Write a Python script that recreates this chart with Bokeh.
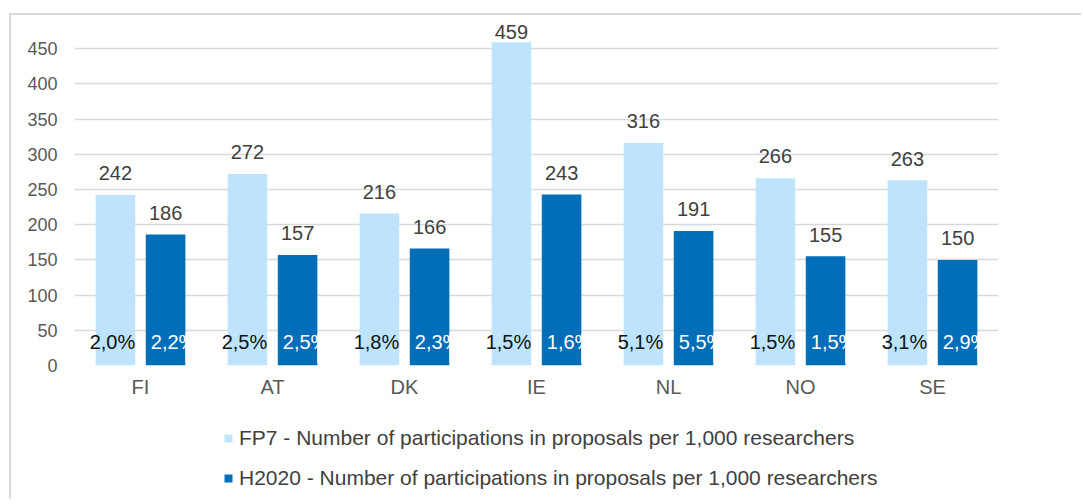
import numpy as np
from bokeh.plotting import figure
from bokeh.layouts import column
from bokeh.models import ColumnDataSource, FactorRange, FixedTicker, Legend, LegendItem, Range1d
from bokeh.transform import dodge
from bokeh.core.properties import value
from bokeh.embed import file_html
from bokeh.resources import INLINE

# ---- data ----
countries = ["FI", "AT", "DK", "IE", "NL", "NO", "SE"]
fp7_values = [242, 272, 216, 459, 316, 266, 263]
h2020_values = [186, 157, 166, 243, 191, 155, 150]
fp7_share = ["2,0%", "2,5%", "1,8%", "1,5%", "5,1%", "1,5%", "3,1%"]
h2020_share = ["2,2%", "2,5%", "2,3%", "1,6%", "5,5%", "1,5%", "2,9%"]
y_ticks = [0, 50, 100, 150, 200, 250, 300, 350, 400, 450]
fp7_label = "FP7 - Number of participations in proposals per 1,000 researchers"
h2020_label = "H2020 - Number of participations in proposals per 1,000 researchers"

LIGHT = "#BDE4FC"
DARK = "#006EB8"
FONT = "Liberation Sans"

src = ColumnDataSource(dict(
    cat=countries,
    fp7=fp7_values,
    h2020=h2020_values,
    fp7_lab=[str(v) for v in fp7_values],
    h2020_lab=[str(v) for v in h2020_values],
    fp7_ly=[float(v) for v in np.minimum(np.array(fp7_values) + 31, 473)],
    h2020_ly=[float(v) for v in np.minimum(np.array(h2020_values) + 31, 473)],
    fp7_pct=fp7_share,
    h2020_pct=h2020_share,
    pct_y=[33] * len(countries),
    mask_bottom=[4] * len(countries),
    mask_top=[46] * len(countries),
))

p = figure(
    x_range=FactorRange(*countries, range_padding=0),
    y_range=Range1d(0, 490),
    width=1070, height=400,
    output_backend="svg", toolbar_location=None,
    min_border_left=63, min_border_right=83, min_border_top=5, min_border_bottom=50,
)
p.outline_line_color = None
p.background_fill_color = "white"
p.border_fill_color = "white"

off = 0.19
w = 0.30
p.vbar(x=dodge("cat", -off, range=p.x_range), top="fp7", width=w, source=src,
       fill_color=LIGHT, line_color=None)
p.vbar(x=dodge("cat", off, range=p.x_range), top="h2020", width=w, source=src,
       fill_color=DARK, line_color=None)

# value labels above bars
p.text(x=dodge("cat", -off, range=p.x_range), y="fp7_ly", text="fp7_lab", source=src,
       text_align="center", text_baseline="alphabetic", text_font=value(FONT),
       text_font_size="20px", text_color="#404040")
p.text(x=dodge("cat", off, range=p.x_range), y="h2020_ly", text="h2020_lab", source=src,
       text_align="center", text_baseline="alphabetic", text_font=value(FONT),
       text_font_size="20px", text_color="#404040")

# share labels inside bars
p.text(x=dodge("cat", -off, range=p.x_range), y="pct_y", text="fp7_pct", source=src,
       text_align="center", text_baseline="alphabetic", text_font=value(FONT),
       text_font_size="20px", text_color="#111111", x_offset=-3)
p.text(x=dodge("cat", off - w / 2, range=p.x_range), y="pct_y", text="h2020_pct", source=src,
       text_align="left", text_baseline="alphabetic", text_font=value(FONT),
       text_font_size="20px", text_color="white", x_offset=5)
# clip the overflow of the white labels at the dark bar's edge
p.quad(left=dodge("cat", off + w / 2, range=p.x_range), right=dodge("cat", off + w / 2 + 0.09, range=p.x_range),
       bottom="mask_bottom", top="mask_top", source=src, fill_color="white", line_color=None)

# axes & grid
p.xgrid.grid_line_color = None
p.ygrid.ticker = FixedTicker(ticks=y_ticks)
p.ygrid.grid_line_color = "#D9D9D9"
p.ygrid.grid_line_width = 1.5
p.yaxis.ticker = FixedTicker(ticks=y_ticks)
for ax in (p.xaxis[0], p.yaxis[0]):
    ax.axis_line_color = None
    ax.major_tick_line_color = None
    ax.minor_tick_line_color = None
    ax.major_tick_out = 0
    ax.major_tick_in = 0
    ax.minor_tick_out = 0
    ax.major_label_text_font = FONT
    ax.major_label_text_color = "#595959"
p.yaxis.major_label_text_font_size = "18px"
p.xaxis.major_label_text_font_size = "20px"
p.yaxis.major_label_standoff = 17
p.xaxis.major_label_standoff = 10

# ---- legend strip below the chart ----
lg = figure(width=1070, height=84, output_backend="svg", toolbar_location=None,
            min_border=0, x_range=Range1d(0, 1), y_range=Range1d(0, 1))
lg.outline_line_color = None
lg.axis.visible = False
lg.grid.visible = False
# zero-height swatch renderers (outside the visible range) that only feed the legend
d1 = lg.vbar(x=[-1], top=[0], width=0.1, fill_color=LIGHT, line_color=None)
d2 = lg.vbar(x=[-1], top=[0], width=0.1, fill_color=DARK, line_color=None)
legend = Legend(items=[LegendItem(label=fp7_label, renderers=[d1]),
                       LegendItem(label=h2020_label, renderers=[d2])],
                orientation="vertical", location=(149, 9),
                label_text_font=FONT, label_text_font_size="21px", label_text_color="#404040",
                glyph_width=10, glyph_height=10, label_standoff=6, spacing=16,
                padding=2, margin=0, border_line_color=None, background_fill_alpha=0)
lg.add_layout(legend, "center")

layout = column(p, lg, spacing=0,
                styles={"border-top": "2px solid #d9d9d9", "border-left": "2px solid #d9d9d9",
                        "margin-top": "13px", "margin-left": "9px"})

open("out.html", "w").write(file_html(layout, INLINE))
